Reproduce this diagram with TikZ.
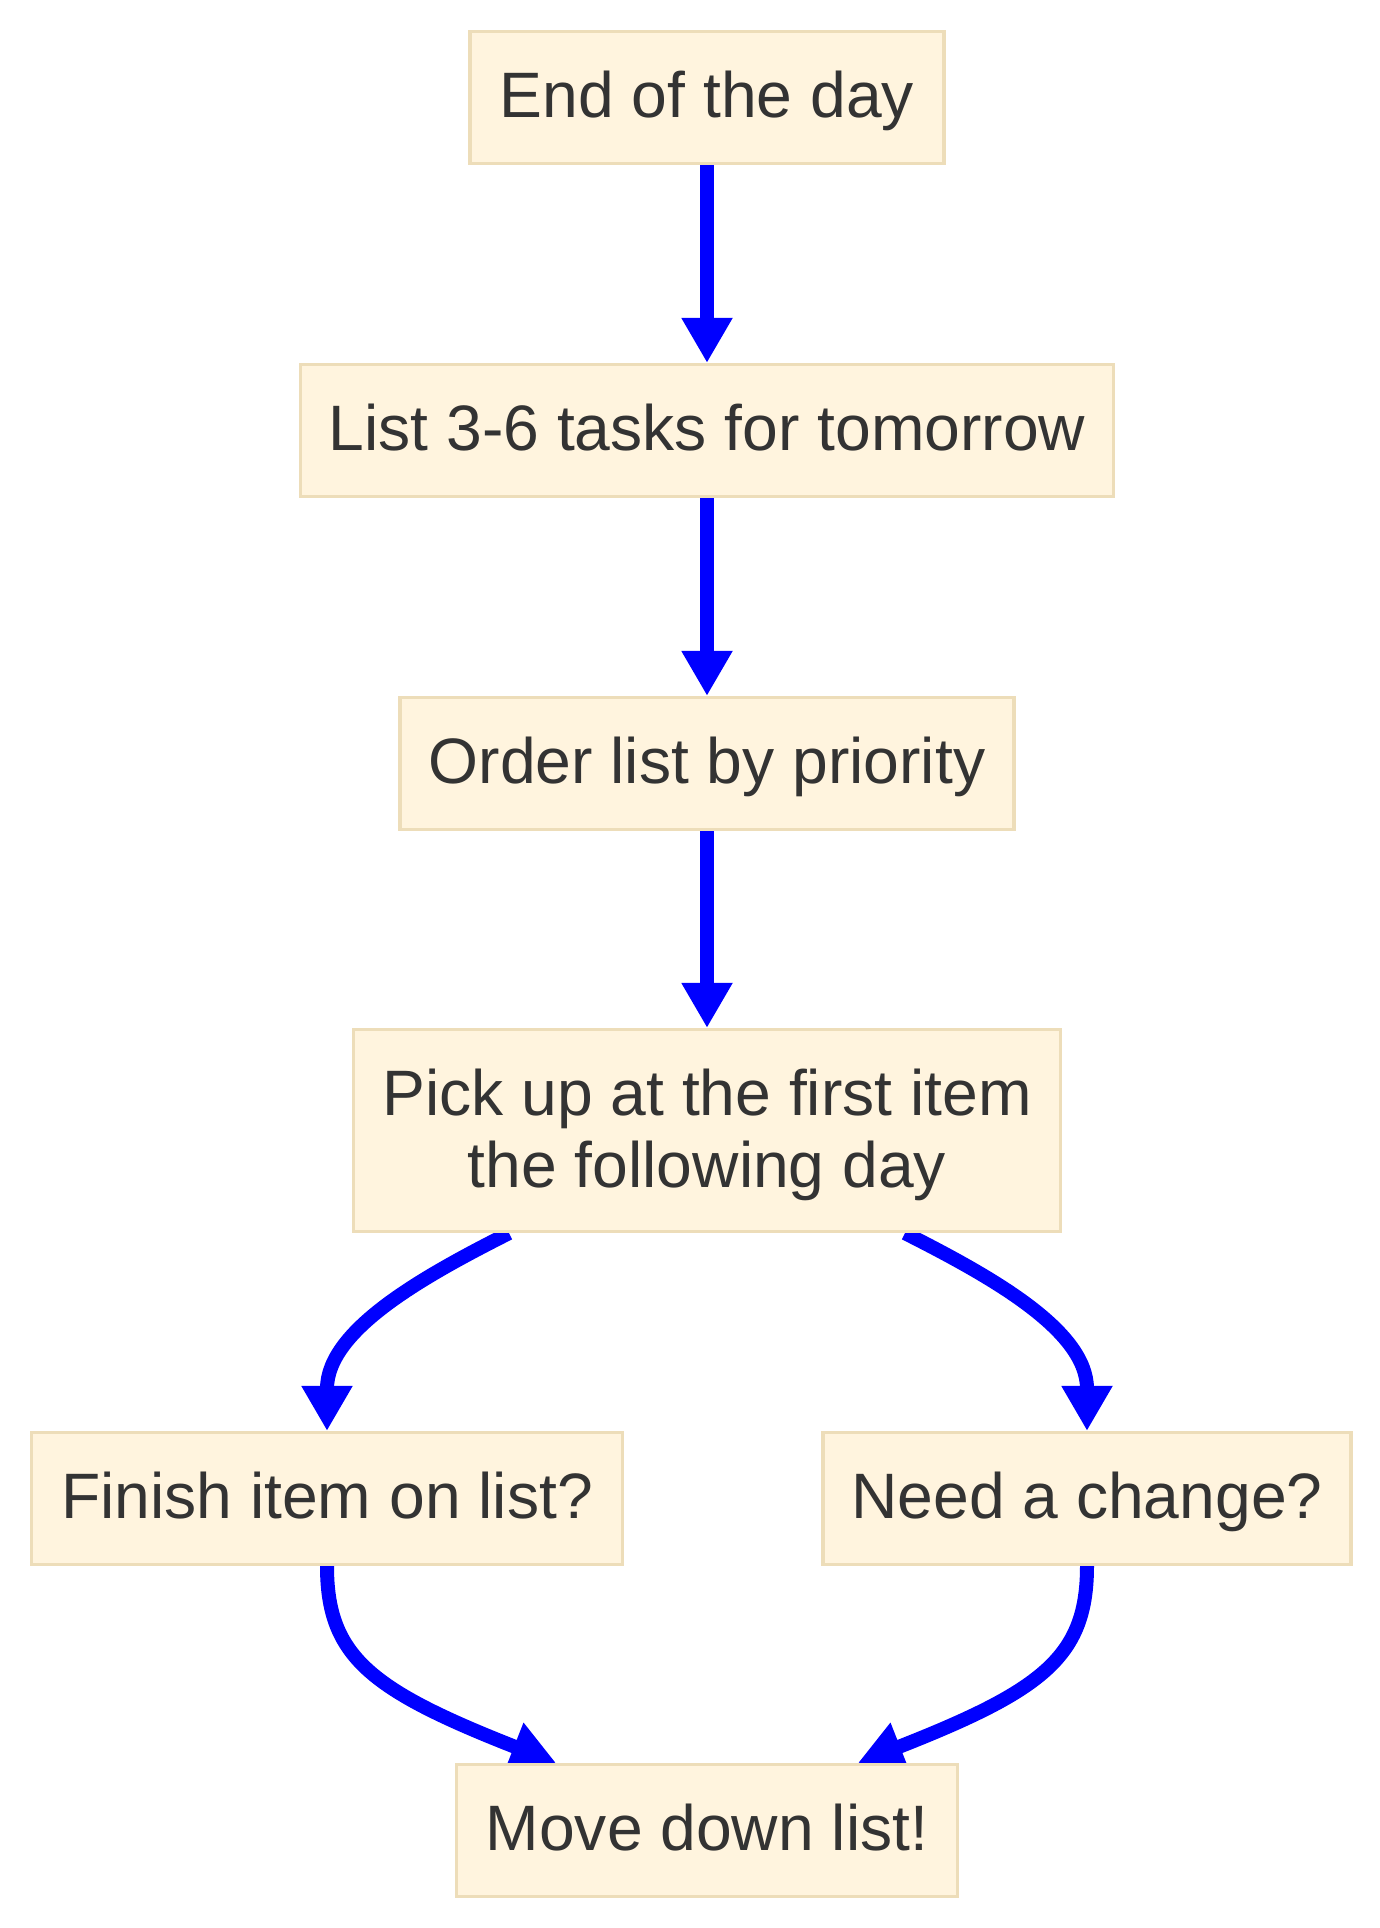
\documentclass[tikz,border=0pt]{standalone}
\usepackage{fontspec}
\setmainfont{Liberation Sans}
\usetikzlibrary{arrows.meta,calc}
\definecolor{boxfill}{HTML}{FFF4DE}
\definecolor{boxline}{HTML}{EDDDB9}
\definecolor{txt}{HTML}{333333}
\definecolor{edge}{HTML}{0000FF}
\pgfdeclarelayer{bg}
\pgfsetlayers{bg,main}
\begin{document}
\begin{tikzpicture}[x=0.5pt,y=-0.5pt,
  box/.style={rectangle, draw=boxline, fill=boxfill, line width=1.6pt, inner sep=0pt,
    text=txt, font=\fontsize{32.1pt}{36pt}\selectfont, minimum height=66pt,
    text height=22.9pt, text depth=2.6pt},
  twoline/.style={minimum height=101pt, align=center, text height=60pt, text depth=3.5pt},
  flow/.style={draw=edge, line width=7pt, -{Triangle[length=22.5pt,width=24pt]}}]
\useasboundingbox (0,0) rectangle (1380,1928);
\node[box, minimum width=237pt]   (end)    at (707,97.5)   {End of the day};
\node[box, minimum width=406.5pt] (list)   at (707,430.5)  {List 3-6 tasks for tomorrow};
\node[box, minimum width=307pt]   (order)  at (707,763.5)  {Order list by priority};
\node[box, twoline, minimum width=353.5pt] (pick) at (707,1130.5) {Pick up at the first item\\the following day};
\node[box, minimum width=295.5pt] (finish) at (327,1498.5) {Finish item on list?};
\node[box, minimum width=264pt]   (need)   at (1087,1498.5) {Need a change?};
\node[box, minimum width=250.5pt] (move)   at (707,1830.5) {Move down list!};
\begin{pgfonlayer}{bg}
\draw[flow] (end.south) -- (list.north);
\draw[flow] (list.south) -- (order.north);
\draw[flow] (order.south) -- (pick.north);
\draw[flow] ($(pick.south)+(-198,0)$) .. controls ($(pick.south)+(-283,43)$) and ($(finish.north)+(0,-101)$) .. (finish.north);
\draw[flow] ($(pick.south)+(198,0)$) .. controls ($(pick.south)+(283,43)$) and ($(need.north)+(0,-101)$) .. (need.north);
\draw[flow] (finish.south) .. controls ($(finish.south)+(0,90)$) and ($(move.north)+(-337,-73)$) .. ($(move.north)+(-151,0)$);
\draw[flow] (need.south) .. controls ($(need.south)+(0,90)$) and ($(move.north)+(337,-73)$) .. ($(move.north)+(151,0)$);
\end{pgfonlayer}
\end{tikzpicture}
\end{document}
